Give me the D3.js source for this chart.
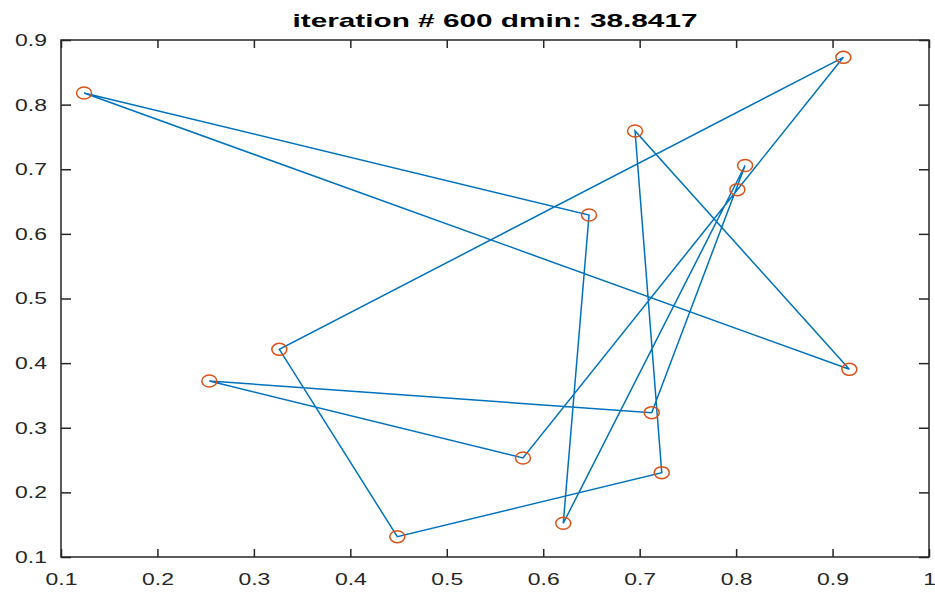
<!DOCTYPE html>
<html>
<head>
<meta charset="utf-8">
<script src="https://cdn.jsdelivr.net/npm/d3@7"></script>
<style>
  body { margin: 0; background: #fff; }
  text { font-family: "Liberation Sans", Arial, sans-serif; }
</style>
</head>
<body>
<div id="chart"></div>
<script>
// tour points, in visiting order (the path closes back on the first one)
const pointX = [0.1239, 0.6475, 0.6208, 0.8093, 0.7125, 0.2538, 0.5790, 0.8013, 0.9112, 0.3264, 0.4487, 0.7229, 0.6952, 0.9174];
const pointY = [0.8180, 0.6292, 0.1522, 0.7058, 0.3233, 0.3723, 0.2532, 0.6684, 0.8732, 0.4213, 0.1314, 0.2305, 0.7592, 0.3904];
const xTicks = [0.1, 0.2, 0.3, 0.4, 0.5, 0.6, 0.7, 0.8, 0.9, 1];
const yTicks = [0.1, 0.2, 0.3, 0.4, 0.5, 0.6, 0.7, 0.8, 0.9];
const titleText = "iteration # 600 dmin: 38.8417";

const width = 935, height = 596;
const margin = { top: 40, right: 6, bottom: 39, left: 61 };
const SX = 1.35; // the picture is stretched sideways, text too

const pts = pointX.map((x, i) => ({ x: x, y: pointY[i] }));

const x = d3.scaleLinear().domain([0.1, 1]).range([margin.left, width - margin.right]);
const y = d3.scaleLinear().domain([0.1, 0.9]).range([height - margin.bottom, margin.top]);

const svg = d3.select("#chart").append("svg")
    .attr("width", width)
    .attr("height", height);

const fmt = d => d === 1 ? "1" : d3.format(".1f")(d);
const axisColor = "#262626";

// bottom axis with labels
const gx = svg.append("g")
    .attr("transform", `translate(0,${height - margin.bottom})`)
    .call(d3.axisBottom(x).tickValues(xTicks).tickFormat(fmt).tickSize(-8).tickSizeOuter(0).tickPadding(16));
// left axis with labels
const gy = svg.append("g")
    .attr("transform", `translate(${margin.left},0)`)
    .call(d3.axisLeft(y).tickValues(yTicks).tickFormat(fmt).tickSize(-10).tickSizeOuter(0));
// top and right, ticks only
svg.append("g")
    .attr("transform", `translate(0,${margin.top})`)
    .call(d3.axisTop(x).tickValues(xTicks).tickFormat("").tickSize(-8).tickSizeOuter(0));
svg.append("g")
    .attr("transform", `translate(${width - margin.right},0)`)
    .call(d3.axisRight(y).tickValues(yTicks).tickFormat("").tickSize(-10).tickSizeOuter(0));

svg.selectAll(".domain").remove();
svg.selectAll(".tick line").attr("stroke", axisColor).attr("stroke-width", 1.5);

gx.selectAll("text")
    .attr("font-size", 17)
    .attr("fill", axisColor)
    .attr("transform", `scale(${SX},1)`);
gy.selectAll("text")
    .attr("font-size", 17)
    .attr("fill", axisColor)
    .attr("x", -14 / SX)
    .attr("transform", `scale(${SX},1)`);

// box
svg.append("rect")
    .attr("x", margin.left)
    .attr("y", margin.top)
    .attr("width", width - margin.left - margin.right)
    .attr("height", height - margin.top - margin.bottom)
    .attr("fill", "none")
    .attr("stroke", axisColor)
    .attr("stroke-width", 1.5);

// tour path
const line = d3.line().x(d => x(d.x)).y(d => y(d.y));
svg.append("path")
    .datum(pts.concat([pts[0]]))
    .attr("d", line)
    .attr("fill", "none")
    .attr("stroke", "#0072BD")
    .attr("stroke-width", 1.5)
    .attr("stroke-linejoin", "miter");

// circle markers
svg.selectAll("ellipse.pt")
    .data(pts)
    .join("ellipse")
    .attr("class", "pt")
    .attr("cx", d => x(d.x))
    .attr("cy", d => y(d.y))
    .attr("rx", 7.5)
    .attr("ry", 6)
    .attr("fill", "none")
    .attr("stroke", "#D95319")
    .attr("stroke-width", 1.5);

// title
svg.append("text")
    .attr("x", (margin.left + width - margin.right) / 2)
    .attr("y", 27)
    .attr("text-anchor", "middle")
    .attr("font-size", 19)
    .attr("font-weight", "bold")
    .attr("fill", "#000")
    .attr("textLength", 405)
    .attr("lengthAdjust", "spacingAndGlyphs")
    .text(titleText);
</script>
</body>
</html>
